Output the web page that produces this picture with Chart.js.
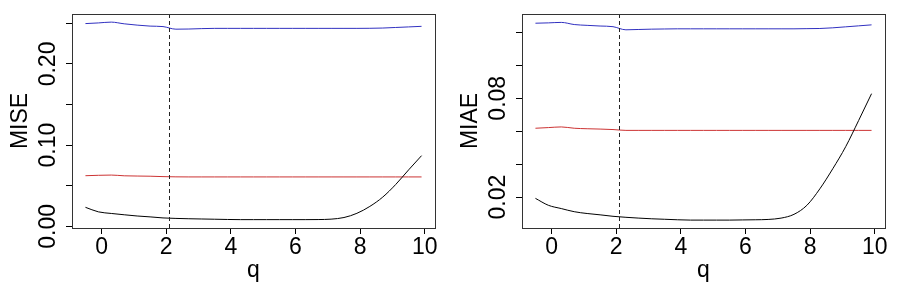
<!DOCTYPE html>
<html lang="en">
<head>
    <meta charset="UTF-8">
    <title>MISE / MIAE vs q</title>
    <style>
        body { margin: 0; background: #fff; }
        .row { display: flex; width: 900px; height: 300px; }
        canvas { display: block; }
    </style>
</head>
<body>

    <div class="row">
        <canvas id="miseChart" width="450" height="300"></canvas>
        <canvas id="miaeChart" width="450" height="300"></canvas>
    </div>

    <script src="https://cdn.jsdelivr.net/npm/chart.js"></script>

    <script>
        // values
        const qValues = [-0.5, -0.1, 0.3, 0.7, 1.1, 1.5, 1.9, 2.3, 2.7, 3.1, 3.5, 3.9, 4.3, 4.7,
                         5.1, 5.5, 5.9, 6.3, 6.7, 7.1, 7.5, 7.9, 8.3, 8.7, 9.1, 9.5, 9.9];

        const miseBlack = [0.0234, 0.0178, 0.0158, 0.0142, 0.0127, 0.0116, 0.0103, 0.0097, 0.0093, 0.0090,
                           0.0087, 0.0084, 0.0082, 0.0082, 0.0082, 0.0082, 0.0082, 0.0082, 0.0083, 0.0088,
                           0.0108, 0.0160, 0.0245, 0.0360, 0.0515, 0.0695, 0.0870];
        const miseRed = [0.0623, 0.0628, 0.0631, 0.0622, 0.0619, 0.0617, 0.0612, 0.0609, 0.0608, 0.0608,
                         0.0608, 0.0608, 0.0608, 0.0608, 0.0608, 0.0608, 0.0608, 0.0608, 0.0608, 0.0608,
                         0.0608, 0.0608, 0.0608, 0.0608, 0.0608, 0.0608, 0.0608];
        const miseBlue = [0.2497, 0.2505, 0.2515, 0.2494, 0.2478, 0.2466, 0.2460, 0.2428, 0.2430, 0.2435,
                          0.2438, 0.2438, 0.2438, 0.2438, 0.2438, 0.2438, 0.2438, 0.2438, 0.2438, 0.2438,
                          0.2438, 0.2438, 0.2439, 0.2442, 0.2449, 0.2456, 0.2463];

        const miaeBlack = [0.0192, 0.0150, 0.0130, 0.0111, 0.0100, 0.0092, 0.0083, 0.0077, 0.0072, 0.0068,
                           0.0065, 0.0062, 0.0060, 0.0060, 0.0060, 0.0060, 0.0061, 0.0062, 0.0064, 0.0072,
                           0.0095, 0.0150, 0.0250, 0.0372, 0.0506, 0.0665, 0.0828];
        const miaeRed = [0.0618, 0.0622, 0.0626, 0.0618, 0.0615, 0.0613, 0.0610, 0.0605, 0.0605, 0.0605,
                         0.0605, 0.0605, 0.0605, 0.0605, 0.0605, 0.0605, 0.0605, 0.0605, 0.0605, 0.0605,
                         0.0605, 0.0605, 0.0605, 0.0605, 0.0605, 0.0605, 0.0605];
        const miaeBlue = [0.1256, 0.1258, 0.1261, 0.1248, 0.1243, 0.1239, 0.1235, 0.1216, 0.1218, 0.1220,
                          0.1221, 0.1222, 0.1222, 0.1222, 0.1222, 0.1222, 0.1222, 0.1222, 0.1222, 0.1222,
                          0.1222, 0.1223, 0.1224, 0.1228, 0.1234, 0.1240, 0.1246];

        // tick labels
        const qTicks = [0, 2, 4, 6, 8, 10];
        const miseTicks = [0, 0.05, 0.10, 0.15, 0.20, 0.25];
        const miseTickLabels = ['0.00', '', '0.10', '', '0.20', ''];
        const miaeTicks = [0.02, 0.04, 0.06, 0.08, 0.10, 0.12];
        const miaeTickLabels = ['0.02', '', '', '0.08', '', ''];
        const qChosen = 2.07;

        const FONT = '23px "Liberation Sans", Arial, sans-serif';

        // draws box, dashed line and all axis text (R style, rotated y labels)
        const rText = {
            id: 'rText',
            afterDraw(chart, args, opts) {
                const ctx = chart.ctx;
                const a = chart.chartArea;
                const xs = chart.scales.x, ys = chart.scales.y;
                ctx.save();

                // dashed line at chosen q
                const xq = Math.round(xs.getPixelForValue(qChosen)) + 0.5;
                ctx.strokeStyle = '#222';
                ctx.lineWidth = 1;
                ctx.setLineDash([4, 3]);
                ctx.beginPath();
                ctx.moveTo(xq, a.top);
                ctx.lineTo(xq, a.bottom);
                ctx.stroke();
                ctx.setLineDash([]);

                // box
                ctx.strokeStyle = '#333';
                ctx.strokeRect(a.left + 0.5, a.top + 0.5, a.right - a.left, a.bottom - a.top);

                ctx.fillStyle = '#000';
                ctx.font = FONT;

                // x tick labels + title
                ctx.textAlign = 'center';
                ctx.textBaseline = 'alphabetic';
                qTicks.forEach(v => ctx.fillText(String(v), xs.getPixelForValue(v), 253.5));
                ctx.fillText('q', (a.left + a.right) / 2, 277);

                // y tick labels, rotated
                opts.ticks.forEach((v, i) => {
                    if (!opts.labels[i]) return;
                    ctx.save();
                    ctx.translate(a.left - 17, ys.getPixelForValue(v));
                    ctx.rotate(-Math.PI / 2);
                    ctx.fillText(opts.labels[i], 0, 0);
                    ctx.restore();
                });

                // y title
                ctx.save();
                ctx.translate(a.left - 45, (a.top + a.bottom) / 2);
                ctx.rotate(-Math.PI / 2);
                ctx.fillText(opts.title, 0, 0);
                ctx.restore();

                ctx.restore();
            }
        };

        function makeChart(id, black, red, blue, yMin, yMax, yTicks, yLabels, yTitle) {
            const line = (vals, color) => ({
                data: qValues.map((q, i) => ({ x: q, y: vals[i] })),
                borderColor: color,
                borderWidth: 1,
                pointRadius: 0,
                cubicInterpolationMode: 'monotone',
                fill: false
            });

            return new Chart(document.getElementById(id), {
                type: 'line',
                data: {
                    datasets: [
                        line(black, '#000000'),
                        line(red, '#cc3333'),
                        line(blue, '#3030c0')
                    ]
                },
                options: {
                    responsive: false,
                    animation: false,
                    layout: { padding: { left: 0, top: 14, right: 15, bottom: 0 } },
                    scales: {
                        x: {
                            type: 'linear',
                            min: -0.916,
                            max: 10.316,
                            afterBuildTicks: s => { s.ticks = qTicks.map(v => ({ value: v })); },
                            afterFit: s => { s.height = 72; },
                            ticks: { display: false },
                            grid: { drawOnChartArea: false, drawTicks: true, tickLength: 6, color: '#000' },
                            border: { display: false }
                        },
                        y: {
                            min: yMin,
                            max: yMax,
                            afterBuildTicks: s => { s.ticks = yTicks.map(v => ({ value: v })); },
                            afterFit: s => { s.width = 72; },
                            ticks: { display: false },
                            grid: { drawOnChartArea: false, drawTicks: true, tickLength: 6, color: '#000' },
                            border: { display: false }
                        }
                    },
                    plugins: {
                        legend: { display: false },
                        tooltip: { enabled: false },
                        rText: { ticks: yTicks, labels: yLabels, title: yTitle }
                    }
                },
                plugins: [rText]
            });
        }

        makeChart('miseChart', miseBlack, miseRed, miseBlue, -0.0021, 0.2615, miseTicks, miseTickLabels, 'MISE');
        makeChart('miaeChart', miaeBlack, miaeRed, miaeBlue, 0.0012, 0.1312, miaeTicks, miaeTickLabels, 'MIAE');
    </script>
</body>
</html>
